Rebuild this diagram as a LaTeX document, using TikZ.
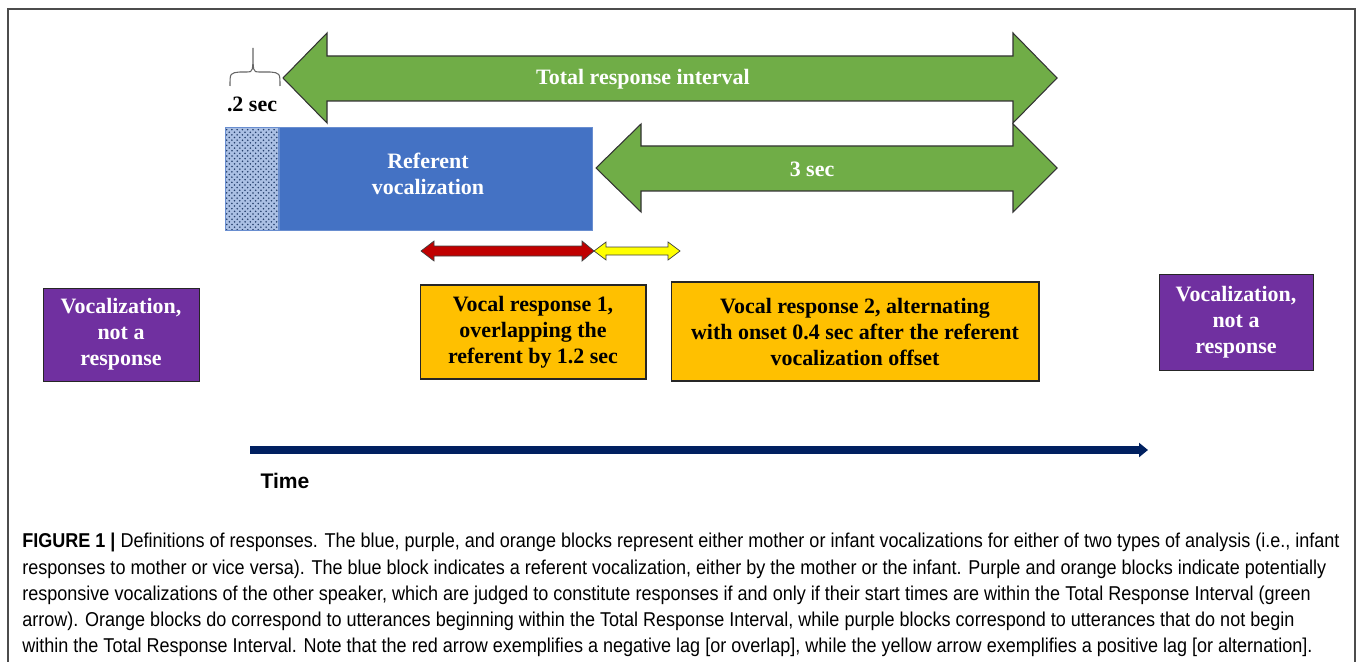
\documentclass[tikz,border=0pt]{standalone}
\usepackage{fontspec}
\setmainfont{Liberation Serif}
\newfontfamily\capfont[FakeStretch=0.9]{Liberation Sans}
\newfontfamily\axisfont{Liberation Sans}
\usetikzlibrary{arrows.meta,patterns,positioning}
\definecolor{intgreen}{HTML}{70AD47}
\definecolor{refblue}{HTML}{4472C4}
\definecolor{vocpurple}{HTML}{7030A0}
\definecolor{resporange}{HTML}{FFC000}
\definecolor{lagred}{HTML}{C00000}
\definecolor{lagyellow}{HTML}{FFFF00}
\definecolor{timenavy}{HTML}{002060}
\tikzset{
    blocktext/.style={font=\fontsize{12.5}{14.8}\selectfont\bfseries, align=center, inner sep=0pt},
    vocbox/.style={draw=black!85, line width=0.5pt, fill=vocpurple, text=white, blocktext},
    respbox/.style={draw=black!85, line width=0.6pt, fill=resporange, text=black, blocktext},
    bigarrow/.style={draw=black!80, line width=0.6pt, fill=intgreen},
    lagarrow/.style={draw=black!75, line width=0.4pt},
    timearrow/.style={-{Triangle[length=0.18cm,width=0.28cm]}, line width=4pt, draw=timenavy},
    captext/.style={font=\capfont\fontsize{11.4}{14.9}\selectfont, align=left, inner sep=0pt}
}
\begin{document}
\begin{tikzpicture}[x=0.02cm, y=-0.02cm]
    \useasboundingbox (0,0) rectangle (1358,662);
    \draw[gray!60!black, line width=1.1pt] (8,662) -- (8,9) -- (1355,9) -- (1355,662);

    % interval arrows
    \draw[bigarrow] (596,168) -- (641,124) -- (641,146) -- (1013,146) -- (1013,124) -- (1057,168)
        -- (1013,212) -- (1013,191) -- (641,191) -- (641,212) -- cycle;
    \draw[bigarrow] (283,78) -- (327,33) -- (327,56) -- (1013,56) -- (1013,33) -- (1057,78)
        -- (1013,123) -- (1013,101) -- (327,101) -- (327,123) -- cycle;
    \node[blocktext, text=white] (total) at (643,79) {Total response interval};
    \node[blocktext, text=white] (threesec) at (812,169) {3 sec};

    % referent block
    \node[draw=refblue!80!white, fill=refblue, minimum width=6.26cm, minimum height=2.06cm, inner sep=0pt] (referent) at (435.5,178.5) {};
    \node[draw=refblue!80!white, preaction={fill=refblue!45!white}, pattern=crosshatch dots, pattern color=refblue!55!black,
        minimum width=1.06cm, minimum height=2.06cm, inner sep=0pt, left=0pt of referent] (onset) {};
    \node[blocktext, text=white] (reftext) at (428,174) {Referent\\vocalization};
    \draw[gray!80!black, line width=0.6pt] (230,86) .. controls (230,73) .. (240,72) -- (247,72)
        .. controls (253,72) .. (253,48) .. controls (253,72) .. (259,72) -- (270,72) .. controls (280,73) .. (280,86);
    \node[blocktext] (onsetlabel) at (252,104) {.2 sec};

    % lag arrows
    \draw[lagarrow, fill=lagred] (421,251) -- (434,241) -- (434,246) -- (582,246) -- (582,241) -- (594,251)
        -- (582,261) -- (582,256) -- (434,256) -- (434,261) -- cycle;
    \draw[lagarrow, fill=lagyellow] (594,251) -- (606,242) -- (606,247) -- (668,247) -- (668,242) -- (680,251)
        -- (668,260) -- (668,255) -- (606,255) -- (606,260) -- cycle;

    % vocalization blocks
    \node[vocbox, minimum width=3.12cm, minimum height=1.86cm] (vocleft) at (121,334.5) {Vocalization,\\not a\\response};
    \node[vocbox, minimum width=3.08cm, minimum height=1.92cm] (vocright) at (1236,322) {Vocalization,\\not a\\response};
    \node[respbox, minimum width=4.52cm, minimum height=1.88cm] (resp1) at (533,332) {Vocal response 1,\\overlapping the\\referent by 1.2 sec};
    \node[respbox, minimum width=7.36cm, minimum height=1.98cm] (resp2) at (855,331.5) {Vocal response 2, alternating\\with onset 0.4 sec after the referent\\vocalization offset};

    % time axis
    \coordinate (tstart) at (250,450);
    \coordinate (tend) at (1148,450);
    \draw[timearrow] (tstart) -- (tend);
    \node[font=\axisfont\bfseries\fontsize{12}{14}\selectfont, inner sep=0pt] (timelabel) at (285,481) {Time};

    % caption
    \node[captext, anchor=north west] (caption) at (22,533) {\textbf{FIGURE 1 |} Definitions of responses. The blue, purple, and orange blocks represent either mother or infant vocalizations for either of two types of analysis (i.e., infant\\
responses to mother or vice versa). The blue block indicates a referent vocalization, either by the mother or the infant. Purple and orange blocks indicate potentially\\
responsive vocalizations of the other speaker, which are judged to constitute responses if and only if their start times are within the Total Response Interval (green\\
arrow). Orange blocks do correspond to utterances beginning within the Total Response Interval, while purple blocks correspond to utterances that do not begin\\
within the Total Response Interval. Note that the red arrow exemplifies a negative lag [or overlap], while the yellow arrow exemplifies a positive lag [or alternation].};
\end{tikzpicture}
\end{document}
